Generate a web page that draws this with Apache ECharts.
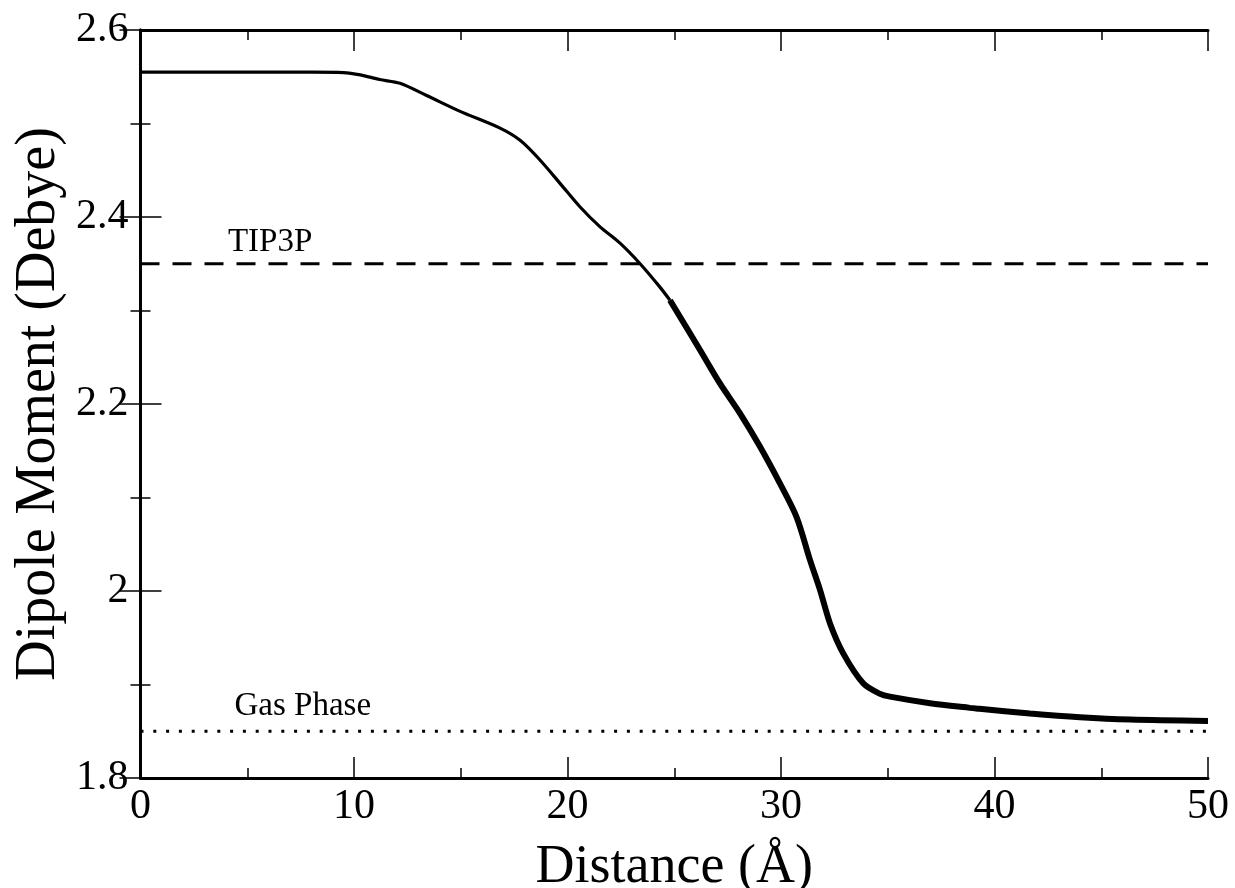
<!DOCTYPE html>
<html>
<head>
<meta charset="utf-8">
<script src="https://cdn.jsdelivr.net/npm/echarts@6/dist/echarts.min.js"></script>
<style>
  html, body {margin: 0; padding: 0; background: #fff;}
  #chart {width: 1235px; height: 888px;}
</style>
</head>
<body>
<div id="chart"></div>
<script>
// dipole moment vs distance
const distance = [0, 2, 4, 6, 8, 9.5, 10.3, 11.2, 12.15, 13.4, 14.97, 16.84, 17.78, 18.71, 19.65,
  20.58, 21.5, 22.46, 23.4, 24.33, 24.8, 26.2, 27.14, 28.08, 29.0, 29.95, 30.73, 31.36, 31.83,
  32.3, 32.92, 33.86, 34.64, 35.1, 36.98, 38.85, 39.3, 41.66, 44.0, 46.35, 50]
const dipole = [2.555, 2.555, 2.555, 2.555, 2.555, 2.5545, 2.552, 2.547, 2.543, 2.530, 2.513, 2.495, 2.482, 2.461, 2.436,
  2.411, 2.390, 2.372, 2.350, 2.325, 2.311, 2.258, 2.222, 2.190, 2.155, 2.115, 2.079, 2.033, 2.001,
  1.965, 1.933, 1.901, 1.890, 1.887, 1.880, 1.875, 1.874, 1.869, 1.865, 1.8625, 1.861]

const refNames = ['TIP3P', 'Gas Phase']
const refValues = [2.35, 1.85]
const xRange = [0, 50]

const font = 'Liberation Serif'
const chart = echarts.init(document.getElementById('chart'))

const pts = distance.map((d, i) => [d, dipole[i]])
// the curve gets noisy past ~25 A, draw that part thicker
const smoothPart = pts.filter(p => p[0] <= 24.8)
const noisyPart = pts.filter(p => p[0] >= 24.8)

const frameAxis = {
  axisLine: {show: true, lineStyle: {color: '#000', width: 3}},
  axisTick: {inside: true, length: 21, lineStyle: {color: '#000', width: 1.5}},
  minorTick: {show: true, splitNumber: 2, length: 10, lineStyle: {color: '#000', width: 1.5}},
  splitLine: {show: false},
}

const option = {
  animation: false,
  backgroundColor: '#fff',
  grid: {left: 140.5, right: 27, top: 30, bottom: 110, containLabel: false, outerBoundsMode: 'none'},
  xAxis: [
    {
      ...frameAxis,
      type: 'value',
      min: xRange[0],
      max: xRange[1],
      interval: 10,
      position: 'bottom',
      axisLabel: {color: '#000', fontFamily: font, fontSize: 42, margin: 8},
      name: 'Distance (Å)',
      nameLocation: 'middle',
      nameGap: 63,
      nameMoveOverlap: false,
      nameTextStyle: {color: '#000', fontFamily: font, fontSize: 54},
    },
    {
      ...frameAxis,
      type: 'value',
      min: xRange[0],
      max: xRange[1],
      interval: 10,
      position: 'top',
      axisLabel: {show: false},
    },
  ],
  yAxis: [
    {
      ...frameAxis,
      type: 'value',
      min: 1.8,
      max: 2.6,
      interval: 0.2,
      position: 'left',
      axisLabel: {color: '#000', fontFamily: font, fontSize: 42, margin: 12},
      name: 'Dipole Moment (Debye)',
      nameLocation: 'middle',
      nameGap: 73,
      nameMoveOverlap: false,
      nameTextStyle: {color: '#000', fontFamily: font, fontSize: 56},
    },
    {
      ...frameAxis,
      type: 'value',
      min: 1.8,
      max: 2.6,
      interval: 0.2,
      position: 'right',
      axisLabel: {show: false},
    },
  ],
  series: [
    {
      type: 'line',
      data: [[xRange[0], refValues[0]], [xRange[1], refValues[0]]],
      symbol: 'none',
      lineStyle: {color: '#000', width: 3, type: [19, 13]},
    },
    {
      type: 'line',
      data: [[xRange[0], refValues[1]], [xRange[1], refValues[1]]],
      symbol: 'none',
      lineStyle: {color: '#000', width: 3, type: [3, 9.8]},
    },
    {
      type: 'line',
      data: smoothPart,
      symbol: 'none',
      smooth: 0.3,
      lineStyle: {color: '#000', width: 3.2},
    },
    {
      type: 'line',
      data: noisyPart,
      symbol: 'none',
      smooth: 0.3,
      lineStyle: {color: '#000', width: 6},
    },
  ],
}

chart.setOption(option)

// reference line captions, placed in data coordinates
const labelAt = [[6.07, 2.373], [7.6, 1.8762]]
chart.setOption({
  graphic: refNames.map((name, i) => {
    const [x, y] = chart.convertToPixel({xAxisIndex: 0, yAxisIndex: 0}, labelAt[i])
    return {
      type: 'text',
      x: x,
      y: y,
      style: {
        text: name,
        fill: '#000',
        font: `33px "${font}"`,
        textAlign: 'center',
        textVerticalAlign: 'middle',
      },
    }
  }),
})
</script>
</body>
</html>
